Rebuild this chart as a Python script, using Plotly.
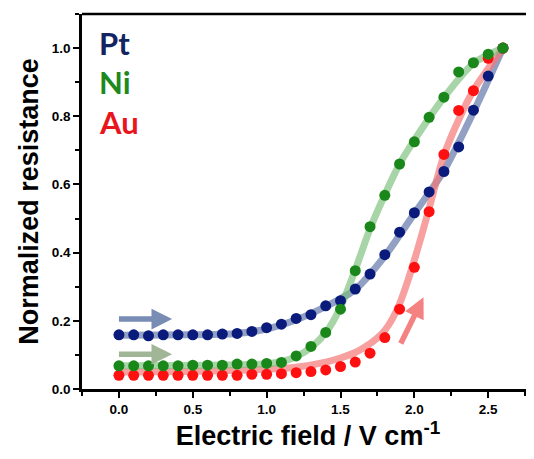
import plotly.graph_objects as go

# ---- data ----
field = [0.0, 0.1, 0.2, 0.3, 0.4, 0.5, 0.6, 0.7, 0.8, 0.9, 1.0, 1.1, 1.2, 1.3,
         1.4, 1.5, 1.6, 1.7, 1.8, 1.9, 2.0, 2.1, 2.2, 2.3, 2.4, 2.5, 2.6]

pt_vals = [0.159, 0.159, 0.156, 0.159, 0.159, 0.159, 0.159, 0.161, 0.163, 0.169,
           0.180, 0.190, 0.207, 0.218, 0.244, 0.259, 0.293, 0.337, 0.394, 0.460,
           0.517, 0.578, 0.638, 0.710, 0.818, 0.918, 1.000]
ni_vals = [0.068, 0.068, 0.068, 0.068, 0.068, 0.070, 0.070, 0.070, 0.073, 0.073,
           0.075, 0.078, 0.097, 0.125, 0.166, 0.234, 0.347, 0.476, 0.568, 0.660,
           0.725, 0.797, 0.856, 0.930, 0.957, 0.982, 1.000]
au_vals = [0.040, 0.040, 0.040, 0.040, 0.040, 0.040, 0.040, 0.040, 0.040, 0.043,
           0.043, 0.045, 0.048, 0.051, 0.056, 0.066, 0.079, 0.105, 0.151, 0.234,
           0.357, 0.520, 0.688, 0.817, 0.875, 0.970, 1.000]

# fitted guide curves
pt_fit_x = [0.0, 0.4, 0.8, 1.0, 1.2, 1.4, 1.6, 1.8, 2.0, 2.2, 2.4, 2.6]
pt_fit_y = [0.158, 0.159, 0.163, 0.176, 0.203, 0.242, 0.292, 0.390, 0.515, 0.640, 0.812, 1.000]
ni_fit_x = [0.0, 0.6, 1.0, 1.1, 1.2, 1.3, 1.4, 1.5, 1.6, 1.7, 1.8, 1.9, 2.0, 2.2, 2.4, 2.6]
ni_fit_y = [0.068, 0.070, 0.074, 0.080, 0.095, 0.122, 0.165, 0.240, 0.350, 0.470, 0.570,
            0.660, 0.730, 0.855, 0.955, 1.000]
au_fit_x = [0.0, 0.5, 1.0, 1.2, 1.4, 1.5, 1.6, 1.7, 1.75, 1.8, 1.85, 1.9, 1.95, 2.0,
            2.05, 2.1, 2.2, 2.3, 2.4, 2.5, 2.6]
au_fit_y = [0.050, 0.052, 0.058, 0.064, 0.079, 0.091, 0.107, 0.133, 0.150, 0.172, 0.205,
            0.250, 0.310, 0.378, 0.452, 0.530, 0.685, 0.790, 0.876, 0.940, 1.000]

series_names = ["Pt", "Ni", "Au"]
x_ticks = [0.0, 0.5, 1.0, 1.5, 2.0, 2.5]
y_ticks = [0.0, 0.2, 0.4, 0.6, 0.8, 1.0]

marker_colors = {"Pt": "#0b1b7c", "Ni": "#1a871a", "Au": "#ff1010"}
line_colors = {"Pt": "rgba(110,130,175,0.75)", "Ni": "rgba(120,190,120,0.65)",
               "Au": "rgba(245,120,120,0.7)"}
label_colors = {"Pt": "#132463", "Ni": "#1e8a1e", "Au": "#e8161c"}

fig = go.Figure()

fits = {"Pt": (pt_fit_x, pt_fit_y), "Ni": (ni_fit_x, ni_fit_y), "Au": (au_fit_x, au_fit_y)}
pts = {"Pt": pt_vals, "Ni": ni_vals, "Au": au_vals}

for name in ["Pt", "Au", "Ni"]:
    fx, fy = fits[name]
    fig.add_trace(go.Scatter(x=fx, y=fy, mode="lines", line=dict(color=line_colors[name], width=7,
                  shape="spline", smoothing=0.8), showlegend=False, hoverinfo="skip"))

for name in ["Pt", "Au", "Ni"]:
    fig.add_trace(go.Scatter(x=field, y=pts[name], mode="markers", name=name,
                             marker=dict(color=marker_colors[name], size=11, line=dict(width=0)),
                             showlegend=False))

# Text labels
label_y = {"Pt": 1.016, "Ni": 0.901, "Au": 0.783}
for name in series_names:
    fig.add_annotation(x=-0.15, y=label_y[name], xref="x", yref="y", text="<b>%s</b>" % name,
                       showarrow=False, xanchor="left", yanchor="middle",
                       font=dict(family="Lato", size=31, color=label_colors[name]))

# arrows
arrows = [
    ((0.36, 0.205), (-0.01, 0.205), "rgb(120,140,180)"),
    ((0.36, 0.102), (-0.01, 0.102), "rgb(160,182,150)"),
    ((2.062, 0.269), (1.903, 0.129), "rgb(245,130,130)"),
]
for (hx, hy), (tx, ty), col in arrows:
    fig.add_annotation(x=hx, y=hy, ax=tx, ay=ty, xref="x", yref="y", axref="x", ayref="y",
                       showarrow=True, arrowhead=2, arrowsize=0.75, arrowwidth=5.5,
                       arrowcolor=col, text="")

# top border
fig.add_shape(type="line", xref="paper", yref="paper", x0=0, x1=1, y0=1, y1=1,
              line=dict(color="black", width=2.5))

tickfont = dict(family="Liberation Sans", size=13.5, color="black")
fig.update_xaxes(range=[-0.25, 2.81], tickvals=x_ticks, automargin=False,
                 ticktext=["<b>%.1f</b>" % v for v in x_ticks],
                 ticks="outside", ticklen=6, tickwidth=2, tickcolor="black",
                 minor=dict(dtick=0.25, tick0=0, ticks="outside", ticklen=4, tickwidth=2, tickcolor="black"),
                 showline=True, linecolor="black", linewidth=2.5, showgrid=False, zeroline=False,
                 tickfont=tickfont,
                 title=dict(text="<b>Electric field / V cm<sup>-1</sup></b>",
                            font=dict(family="Liberation Sans", size=27, color="black"), standoff=10))
fig.update_yaxes(range=[0, 1.1], tickvals=y_ticks, automargin=False,
                 ticktext=["<b>%.1f</b>" % v for v in y_ticks],
                 ticks="outside", ticklen=6, tickwidth=2, tickcolor="black",
                 minor=dict(dtick=0.1, tick0=0, ticks="outside", ticklen=4, tickwidth=2, tickcolor="black"),
                 showline=True, linecolor="black", linewidth=2.5, showgrid=False, zeroline=False,
                 tickfont=tickfont,
                 title=dict(text="<b>Normalized resistance</b>",
                            font=dict(family="Liberation Sans", size=27, color="black"), standoff=6))

fig.update_layout(width=526, height=451, margin=dict(l=74, r=0, t=6, b=70),
                  plot_bgcolor="white", paper_bgcolor="white", showlegend=False)

fig.write_html("out.html")
